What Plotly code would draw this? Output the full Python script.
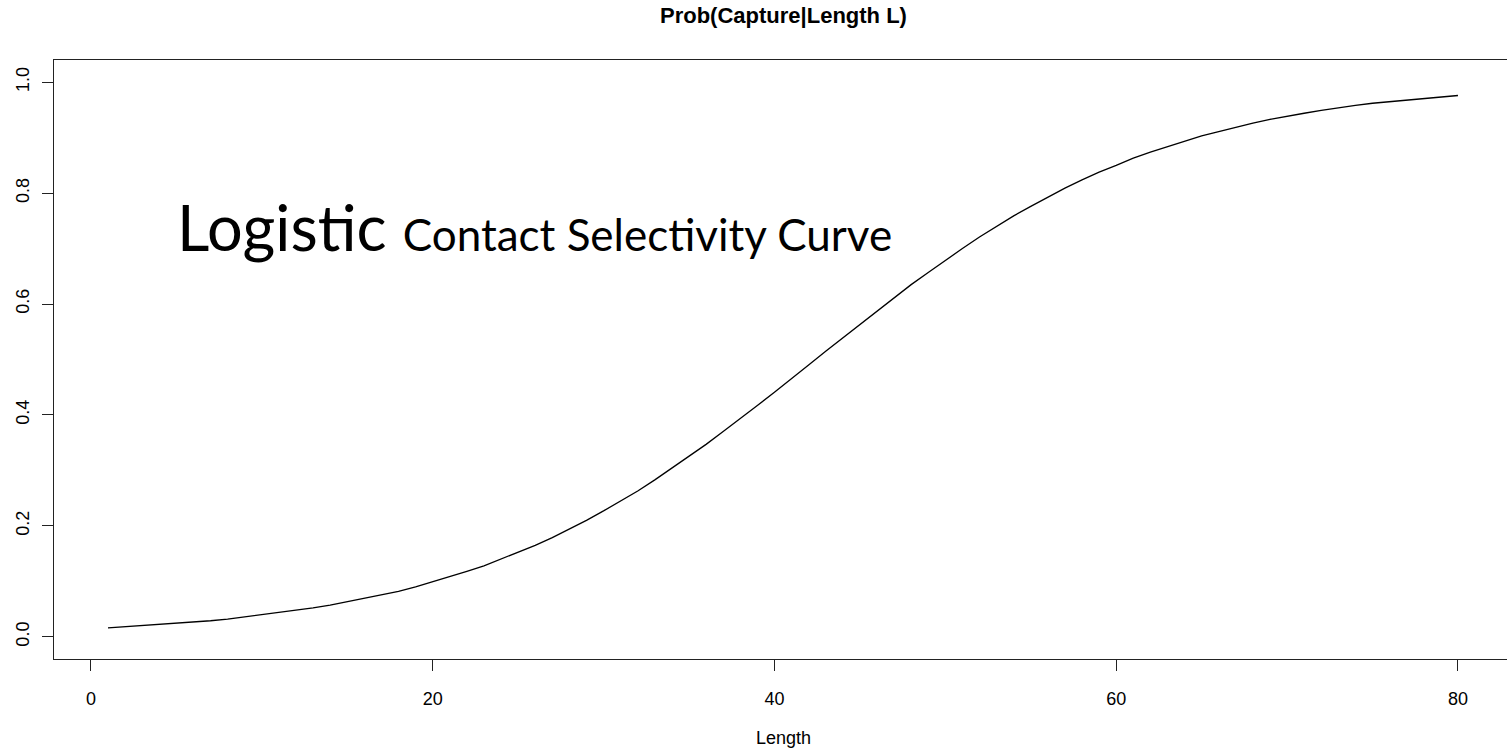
import plotly.graph_objects as go

length = list(range(1, 81))
prob = [0.016, 0.018, 0.020, 0.022, 0.024, 0.027, 0.029, 0.032, 0.036, 0.039,
        0.043, 0.047, 0.052, 0.057, 0.063, 0.069, 0.075, 0.082, 0.090, 0.099,
        0.108, 0.118, 0.128, 0.140, 0.152, 0.165, 0.179, 0.194, 0.210, 0.227,
        0.245, 0.263, 0.283, 0.304, 0.325, 0.347, 0.370, 0.393, 0.417, 0.441,
        0.465, 0.490, 0.515, 0.539, 0.564, 0.588, 0.612, 0.635, 0.657, 0.679,
        0.700, 0.721, 0.740, 0.759, 0.776, 0.793, 0.809, 0.824, 0.838, 0.850,
        0.863, 0.874, 0.884, 0.894, 0.903, 0.911, 0.919, 0.926, 0.933, 0.939,
        0.944, 0.949, 0.954, 0.958, 0.962, 0.965, 0.968, 0.971, 0.974, 0.976]

x_ticks = [0, 20, 40, 60, 80]
y_ticks = [0.0, 0.2, 0.4, 0.6, 0.8, 1.0]
y_tick_labels = ["0.0", "0.2", "0.4", "0.6", "0.8", "1.0"]

title_text = "Prob(Capture|Length L)"
x_label = "Length"
big_word = "Logistic"
small_words = "Contact Selectivity Curve"

fig = go.Figure()
fig.add_trace(go.Scatter(x=length, y=prob, mode="lines",
                         line=dict(color="black", width=1.3),
                         showlegend=False, hoverinfo="skip"))

axis_font = dict(family="Liberation Sans, Arial, sans-serif", size=18, color="black")

fig.update_layout(
    width=1507, height=751,
    margin=dict(l=54, r=0, t=60, b=92),
    paper_bgcolor="white", plot_bgcolor="white",
    xaxis=dict(range=[-2.16, 82.87], tickvals=x_ticks, ticktext=[str(v) for v in x_ticks],
               showgrid=False, zeroline=False, showline=True, mirror=True,
               linecolor="#222", linewidth=1, ticks="outside", ticklen=11,
               tickwidth=1, tickcolor="#222", tickfont=axis_font,
               ticklabelstandoff=12),
    yaxis=dict(range=[-0.04, 1.04], tickvals=y_ticks, ticktext=y_tick_labels,
               showgrid=False, zeroline=False, showline=True, mirror=False,
               linecolor="#222", linewidth=1, ticks="outside", ticklen=11,
               tickwidth=1, tickcolor="#222", tickfont=axis_font,
               tickangle=-90, ticklabelstandoff=6),
    annotations=[
        dict(text="<b>" + title_text + "</b>", xref="paper", yref="paper",
             x=0.5 + (783 - (54 + 1507) / 2) / 1453, y=(658.7 - 16) / 598.7,
             xanchor="center", yanchor="middle", showarrow=False,
             font=dict(family="Liberation Sans, Arial, sans-serif", size=22, color="black")),
        dict(text=x_label, xref="paper", yref="paper",
             x=(783 - 54) / 1453, y=(658.7 - 738) / 598.7,
             xanchor="center", yanchor="middle", showarrow=False,
             font=axis_font),
        dict(text=big_word + ' <span style="font-size:44px">' + small_words + "</span>",
             xref="x", yref="y", x=4.95, y=0.74,
             xanchor="left", yanchor="middle", showarrow=False, borderpad=0,
             font=dict(family="Lato, sans-serif", size=63, color="black")),
    ],
)

fig.write_html("out.html")
